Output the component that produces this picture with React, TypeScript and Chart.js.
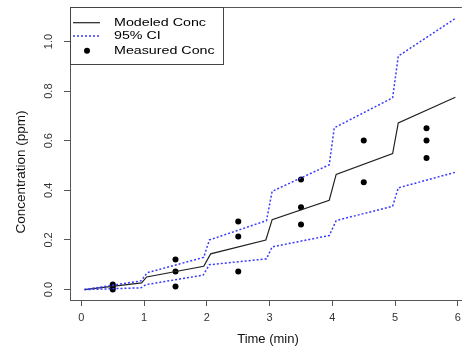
import { useEffect, useRef } from "react";
import { Chart, registerables } from "chart.js";

Chart.register(...registerables);

const modelTime = [0.05, 0.96, 1.04, 1.95, 2.06, 2.94, 3.04, 3.95, 4.06, 4.96, 5.05, 5.96];
const modelConc = [0, 0.027, 0.051, 0.094, 0.144, 0.2, 0.282, 0.36, 0.464, 0.548, 0.672, 0.775];

const upperTime = [0.05, 0.95, 1.05, 1.95, 2.04, 2.95, 3.04, 3.95, 4.03, 4.96, 5.05, 5.96];
const upperConc = [0, 0.035, 0.068, 0.13, 0.2, 0.278, 0.396, 0.503, 0.652, 0.773, 0.941, 1.093];

const lowerTime = [0.05, 0.95, 1.03, 1.94, 2.04, 2.95, 3.04, 3.95, 4.06, 4.96, 5.05, 5.96];
const lowerConc = [0, 0.007, 0.02, 0.058, 0.1, 0.124, 0.172, 0.218, 0.278, 0.336, 0.41, 0.473];

const measuredTime = [0.5, 0.5, 0.5, 1.5, 1.5, 1.5, 2.5, 2.5, 2.5, 3.5, 3.5, 3.5, 4.5, 4.5, 5.5, 5.5, 5.5];
const measuredConc = [0.0, 0.01, 0.02, 0.121, 0.073, 0.012, 0.274, 0.214, 0.073, 0.444, 0.332, 0.262, 0.433, 0.601, 0.65, 0.601, 0.53];

const xTicks = [0, 1, 2, 3, 4, 5, 6];
const yTicks = [0, 0.2, 0.4, 0.6, 0.8, 1.0];
const yTickLabels = ["0.0", "0.2", "0.4", "0.6", "0.8", "1.0"];

const legendLabels = ["Modeled Conc", "95% CI", "Measured Conc"];
const xTitle = "Time (min)";
const yTitle = "Concentration (ppm)";

const FONT = '"Liberation Sans", Arial, sans-serif';
const AXIS_COLOR = "#555";
const TEXT_COLOR = "#333";
const CI_COLOR = "#3a3aff";

const pts = (xs: number[], ys: number[]) => xs.map((x, i) => ({ x, y: ys[i] }));

const decorPlugin = {
  id: "decor",
  afterDraw(chart: any) {
    const ctx = chart.ctx;
    const area = chart.chartArea;
    const ys = chart.scales.y;
    ctx.save();
    ctx.strokeStyle = AXIS_COLOR;
    ctx.lineWidth = 1;
    ctx.beginPath();
    ctx.moveTo(area.left, Math.round(area.top) + 0.5);
    ctx.lineTo(area.right, Math.round(area.top) + 0.5);
    ctx.stroke();

    ctx.fillStyle = TEXT_COLOR;
    ctx.font = `11px ${FONT}`;
    ctx.textAlign = "center";
    ctx.textBaseline = "middle";
    yTicks.forEach((v, i) => {
      const y = ys.getPixelForValue(v);
      ctx.save();
      ctx.translate(49, y);
      ctx.rotate(-Math.PI / 2);
      ctx.fillText(yTickLabels[i], 0, 0);
      ctx.restore();
    });

    ctx.fillStyle = "#111";
    ctx.font = `13.5px ${FONT}`;
    ctx.save();
    ctx.translate(25, 172);
    ctx.rotate(-Math.PI / 2);
    ctx.textAlign = "center";
    ctx.textBaseline = "alphabetic";
    ctx.fillText(yTitle, 0, 0);
    ctx.restore();

    ctx.font = `13px ${FONT}`;
    ctx.textAlign = "center";
    ctx.textBaseline = "alphabetic";
    ctx.fillText(xTitle, 268, 343);

    const lx = Math.round(area.left) + 0.5;
    const ly = Math.round(area.top) + 0.5;
    ctx.fillStyle = "#fff";
    ctx.fillRect(lx, ly, 153, 57);
    ctx.strokeStyle = "#444";
    ctx.lineWidth = 1;
    ctx.strokeRect(lx, ly, 153, 57);

    const rows = [22.7, 36, 50.7];
    ctx.strokeStyle = "#222";
    ctx.lineWidth = 1.2;
    ctx.beginPath();
    ctx.moveTo(73, rows[0]);
    ctx.lineTo(100, rows[0]);
    ctx.stroke();
    ctx.strokeStyle = CI_COLOR;
    ctx.lineWidth = 1.5;
    ctx.setLineDash([2, 2]);
    ctx.beginPath();
    ctx.moveTo(73, rows[1]);
    ctx.lineTo(100, rows[1]);
    ctx.stroke();
    ctx.setLineDash([]);
    ctx.fillStyle = "#000";
    ctx.beginPath();
    ctx.arc(87, rows[2], 3, 0, Math.PI * 2);
    ctx.fill();

    ctx.fillStyle = "#000";
    ctx.font = `11.5px ${FONT}`;
    ctx.textAlign = "left";
    ctx.textBaseline = "middle";
    legendLabels.forEach((t, i) => {
      ctx.save();
      ctx.translate(114, rows[i]);
      ctx.scale(1.24, 1);
      ctx.fillText(t, 0, 0);
      ctx.restore();
    });
    ctx.restore();
  },
};

export default function App() {
  const ref = useRef<HTMLCanvasElement | null>(null);

  useEffect(() => {
    if (!ref.current) return;
    const chart = new Chart(ref.current, {
      type: "scatter",
      data: {
        datasets: [
          {
            label: "95% CI upper",
            data: pts(upperTime, upperConc),
            showLine: true,
            borderColor: CI_COLOR,
            borderWidth: 1.5,
            borderDash: [2, 2],
            pointRadius: 0,
            fill: false,
          },
          {
            label: "95% CI lower",
            data: pts(lowerTime, lowerConc),
            showLine: true,
            borderColor: CI_COLOR,
            borderWidth: 1.5,
            borderDash: [2, 2],
            pointRadius: 0,
            fill: false,
          },
          {
            label: "Modeled Conc",
            data: pts(modelTime, modelConc),
            showLine: true,
            borderColor: "#222",
            borderWidth: 1.2,
            pointRadius: 0,
            fill: false,
          },
          {
            label: "Measured Conc",
            data: pts(measuredTime, measuredConc),
            showLine: false,
            pointRadius: 3,
            pointBackgroundColor: "#000",
            pointBorderColor: "#000",
            pointBorderWidth: 0,
          },
        ],
      },
      options: {
        animation: false,
        responsive: false,
        maintainAspectRatio: false,
        layout: { padding: { left: 0, top: 7, right: 0, bottom: 0 } },
        plugins: {
          legend: { display: false },
          tooltip: { enabled: false },
        },
        scales: {
          x: {
            type: "linear",
            position: "bottom",
            min: -0.181,
            max: 6.063,
            afterBuildTicks: (s: any) => {
              s.ticks = xTicks.map((v) => ({ value: v }));
            },
            afterFit: (s: any) => {
              s.height = 46;
            },
            grid: {
              display: true,
              drawOnChartArea: false,
              drawTicks: true,
              tickLength: 6,
              color: AXIS_COLOR,
            },
            border: { display: true, color: AXIS_COLOR, width: 1 },
            ticks: {
              color: TEXT_COLOR,
              font: { family: FONT, size: 11 },
              padding: 5,
              maxRotation: 0,
              autoSkip: false,
            },
          },
          y: {
            type: "linear",
            position: "left",
            min: -0.042,
            max: 1.139,
            afterBuildTicks: (s: any) => {
              s.ticks = yTicks.map((v) => ({ value: v }));
            },
            afterFit: (s: any) => {
              s.width = 70;
            },
            grid: {
              display: true,
              drawOnChartArea: false,
              drawTicks: true,
              tickLength: 6,
              color: AXIS_COLOR,
            },
            border: { display: true, color: AXIS_COLOR, width: 1 },
            ticks: { display: false },
          },
        },
      },
      plugins: [decorPlugin],
    });
    return () => chart.destroy();
  }, []);

  return (
    <div style={{ position: "absolute", left: 0, top: 0, width: 466, height: 346, background: "#fff" }}>
      <canvas ref={ref} width={466} height={346} style={{ display: "block", width: 466, height: 346 }} />
    </div>
  );
}
